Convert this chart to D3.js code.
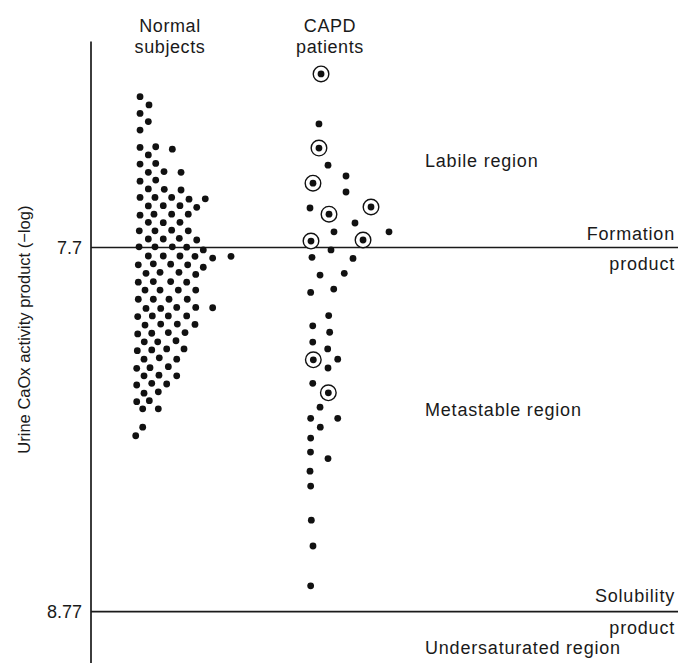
<!DOCTYPE html>
<html>
<head>
<meta charset="utf-8">
<script src="https://cdn.jsdelivr.net/npm/d3@7"></script>
<style>
  html, body { margin: 0; padding: 0; background: #fff; }
  svg { display: block; }
  text { font-family: "Liberation Sans", Arial, Helvetica, sans-serif; fill: #1a1a1a; }
</style>
</head>
<body>
<svg id="chart" width="678" height="663"></svg>
<script>
// ---------------- data ----------------
const groups = ["Normal subjects", "CAPD patients"];
const groupLabels = [["Normal", "subjects"], ["CAPD", "patients"]];
const tickValues = [7.7, 8.77];
const tickLabels = ["7.7", "8.77"];
const yTitle = "Urine CaOx activity product (\u2212log)";

// Normal subjects: urine CaOx activity product (-log) and horizontal dot-column offset
const normalValues = [
  7.257, 7.281, 7.306, 7.330, 7.355, 7.406, 7.404, 7.411, 7.428, 7.455,
  7.453, 7.479, 7.477, 7.479, 7.505, 7.502, 7.528, 7.529, 7.531, 7.553,
  7.553, 7.553, 7.558, 7.557, 7.578, 7.577, 7.577, 7.582, 7.605, 7.602,
  7.602, 7.602, 7.626, 7.627, 7.626, 7.651, 7.651, 7.649, 7.651, 7.675,
  7.675, 7.673, 7.678, 7.698, 7.698, 7.698, 7.699, 7.707, 7.725, 7.725,
  7.725, 7.726, 7.731, 7.726, 7.751, 7.748, 7.749, 7.751, 7.758, 7.776,
  7.773, 7.773, 7.779, 7.802, 7.800, 7.800, 7.802, 7.825, 7.825, 7.825,
  7.825, 7.852, 7.852, 7.852, 7.852, 7.879, 7.879, 7.876, 7.876, 7.877,
  7.903, 7.901, 7.901, 7.901, 7.928, 7.925, 7.925, 7.926, 7.954, 7.952,
  7.950, 7.950, 7.977, 7.977, 7.974, 8.003, 8.001, 7.998, 7.998, 8.028,
  8.024, 8.028, 8.055, 8.053, 8.050, 8.077, 8.075, 8.077, 8.104, 8.099,
  8.101, 8.128, 8.124, 8.153, 8.150, 8.174, 8.174, 8.228, 8.253
];
const normalOffsets = [
  -3.61, -2.53, -3.61, -2.61, -3.61, -3.61, -1.72, 0.28, -2.61, -3.61,
  -1.72, -2.61, -0.72, 1.33, -3.61, -1.72, -2.61, -0.69, 1.33, -3.61,
  -1.81, 0.20, 2.29, 4.25, -2.61, -0.81, 1.20, 3.22, -3.61, -1.93,
  0.20, 2.20, -2.61, -0.81, 1.20, -3.70, -1.81, 0.20, 2.20, -2.61,
  -0.81, 1.12, 3.22, -3.73, -1.81, 0.28, 2.01, 4.01, -2.61, -0.81,
  1.20, 3.01, 5.14, 7.35, -3.82, -2.01, 0.08, 2.13, 4.01, -2.89,
  -1.20, 1.08, 3.10, -3.82, -2.01, 0.08, 2.01, -3.01, -1.20, 1.00,
  3.10, -3.82, -2.01, -0.12, 2.08, -2.89, -1.12, 0.81, 3.10, 5.14,
  -3.89, -2.13, -0.20, 2.01, -3.01, -1.12, 0.88, 3.01, -3.89, -2.20,
  -0.20, 1.81, -3.10, -1.48, 0.72, -3.94, -2.20, -0.40, 1.69, -3.13,
  -1.29, 0.81, -4.01, -2.41, -0.20, -3.13, -1.33, 0.81, -4.01, -2.20,
  -0.40, -3.13, -1.41, -4.01, -2.49, -3.29, -1.41, -3.29, -4.13
];

// CAPD patients
const capdValues = [
  7.190, 7.337, 7.408, 7.458, 7.490, 7.511, 7.537, 7.584, 7.581, 7.602,
  7.628, 7.654, 7.654, 7.681, 7.678, 7.707, 7.729, 7.732, 7.781, 7.776,
  7.832, 7.822, 7.900, 7.930, 7.949, 7.978, 7.998, 8.030, 8.028, 8.054,
  8.099, 8.127, 8.169, 8.202, 8.202, 8.228, 8.260, 8.301, 8.320, 8.357,
  8.401, 8.501, 8.577, 8.694
];
const capdOffsets = [
  -1.08, -1.33, -1.33, -0.24, 1.93, -2.05, 1.93, -2.41, 4.94, -0.12,
  3.01, 0.48, 7.11, -2.29, 3.98, 0.12, -2.17, 2.77, -1.20, 1.72,
  -2.33, 0.45, -0.16, -2.08, -0.04, -2.08, -0.28, -2.01, 0.93, -0.24,
  -2.08, -0.20, -1.20, -2.33, 0.93, -1.17, -2.33, -2.35, -0.24, -2.41,
  -2.33, -2.25, -2.05, -2.33
];
// 1 = circled patient
const capdCircled = [
  1, 0, 1, 0, 0, 1, 0, 0, 1, 1,
  0, 0, 0, 1, 1, 0, 0, 0, 0, 0,
  0, 0, 0, 0, 0, 0, 0, 1, 0, 0,
  0, 1, 0, 0, 0, 0, 0, 0, 0, 0,
  0, 0, 0, 0
];

// ---------------- layout ----------------
const W = 678, H = 663;
const axisX = 91;
const svg = d3.select("#chart");

const y = d3.scaleLinear().domain([7.7, 8.77]).range([247.5, 611.7]);
const xGroup = d3.scalePoint().domain(groups).range([170, 330]);
const xOff = d3.scaleLinear().domain([0, 1]).range([0, 8.3]);

// horizontal reference lines (formation & solubility product)
svg.selectAll("line.ref").data(tickValues).enter().append("line")
  .attr("class", "ref")
  .attr("x1", axisX).attr("x2", W)
  .attr("y1", d => y(d)).attr("y2", d => y(d))
  .attr("stroke", "#1a1a1a").attr("stroke-width", 1.7);

// y axis
const axis = d3.axisLeft(y).tickValues(tickValues)
  .tickFormat((d, i) => tickLabels[i]).tickSize(0).tickPadding(9);
const gAxis = svg.append("g").attr("transform", `translate(${axisX},0)`).call(axis);
gAxis.attr("font-size", null).attr("font-family", null);
gAxis.select(".domain").remove();
gAxis.selectAll("text").style("font-size", "18px")
  .style("font-family", "'Liberation Sans', Arial, sans-serif").attr("fill", "#1a1a1a");
gAxis.append("line").attr("x1", 0).attr("x2", 0)
  .attr("y1", y(7.7) - 206).attr("y2", H)
  .attr("stroke", "#1a1a1a").attr("stroke-width", 1.7);

// y axis title
svg.append("text")
  .attr("transform", `translate(30,${(y(7.7) + y(8.77)) / 2 - 100}) rotate(-90)`)
  .attr("text-anchor", "middle")
  .style("font-size", "16.5px")
  .text(yTitle);

// group headers
groups.forEach((g, i) => {
  groupLabels[i].forEach((t, j) => {
    svg.append("text")
      .attr("x", xGroup(g)).attr("y", 32 + j * 21)
      .attr("text-anchor", "middle")
      .style("font-size", "18px")
      .style("letter-spacing", "0.6px")
      .text(t);
  });
});

// dots
const normalData = normalValues.map((v, i) => ({ v, o: normalOffsets[i] }));
const capdData = capdValues.map((v, i) => ({ v, o: capdOffsets[i], c: capdCircled[i] }));

svg.append("g").selectAll("circle").data(normalData).enter().append("circle")
  .attr("cx", d => xGroup(groups[0]) + xOff(d.o))
  .attr("cy", d => y(d.v))
  .attr("r", 3.4).attr("fill", "#111");

const gC = svg.append("g");
gC.selectAll("circle.ring").data(capdData.filter(d => d.c)).enter().append("circle")
  .attr("class", "ring")
  .attr("cx", d => xGroup(groups[1]) + xOff(d.o))
  .attr("cy", d => y(d.v))
  .attr("r", 7.8).attr("fill", "#fff").attr("stroke", "#111").attr("stroke-width", 1.4);
gC.selectAll("circle.dot").data(capdData).enter().append("circle")
  .attr("class", "dot")
  .attr("cx", d => xGroup(groups[1]) + xOff(d.o))
  .attr("cy", d => y(d.v))
  .attr("r", 3.4).attr("fill", "#111");

// region annotations
const ann = [
  { t: "Labile region", x: 425, yv: 7.7, dy: -81, a: "start" },
  { t: "Formation", x: 675, yv: 7.7, dy: -8, a: "end" },
  { t: "product", x: 675, yv: 7.7, dy: 22, a: "end" },
  { t: "Metastable region", x: 425, yv: 7.7, dy: 168, a: "start" },
  { t: "Solubility", x: 675, yv: 8.77, dy: -10, a: "end" },
  { t: "product", x: 675, yv: 8.77, dy: 22, a: "end" },
  { t: "Undersaturated region", x: 425, yv: 8.77, dy: 42, a: "start" }
];
svg.selectAll("text.ann").data(ann).enter().append("text")
  .attr("class", "ann")
  .attr("x", d => d.x).attr("y", d => y(d.yv) + d.dy)
  .attr("text-anchor", d => d.a)
  .style("font-size", "18px")
  .style("letter-spacing", "0.8px")
  .text(d => d.t);
</script>
</body>
</html>
